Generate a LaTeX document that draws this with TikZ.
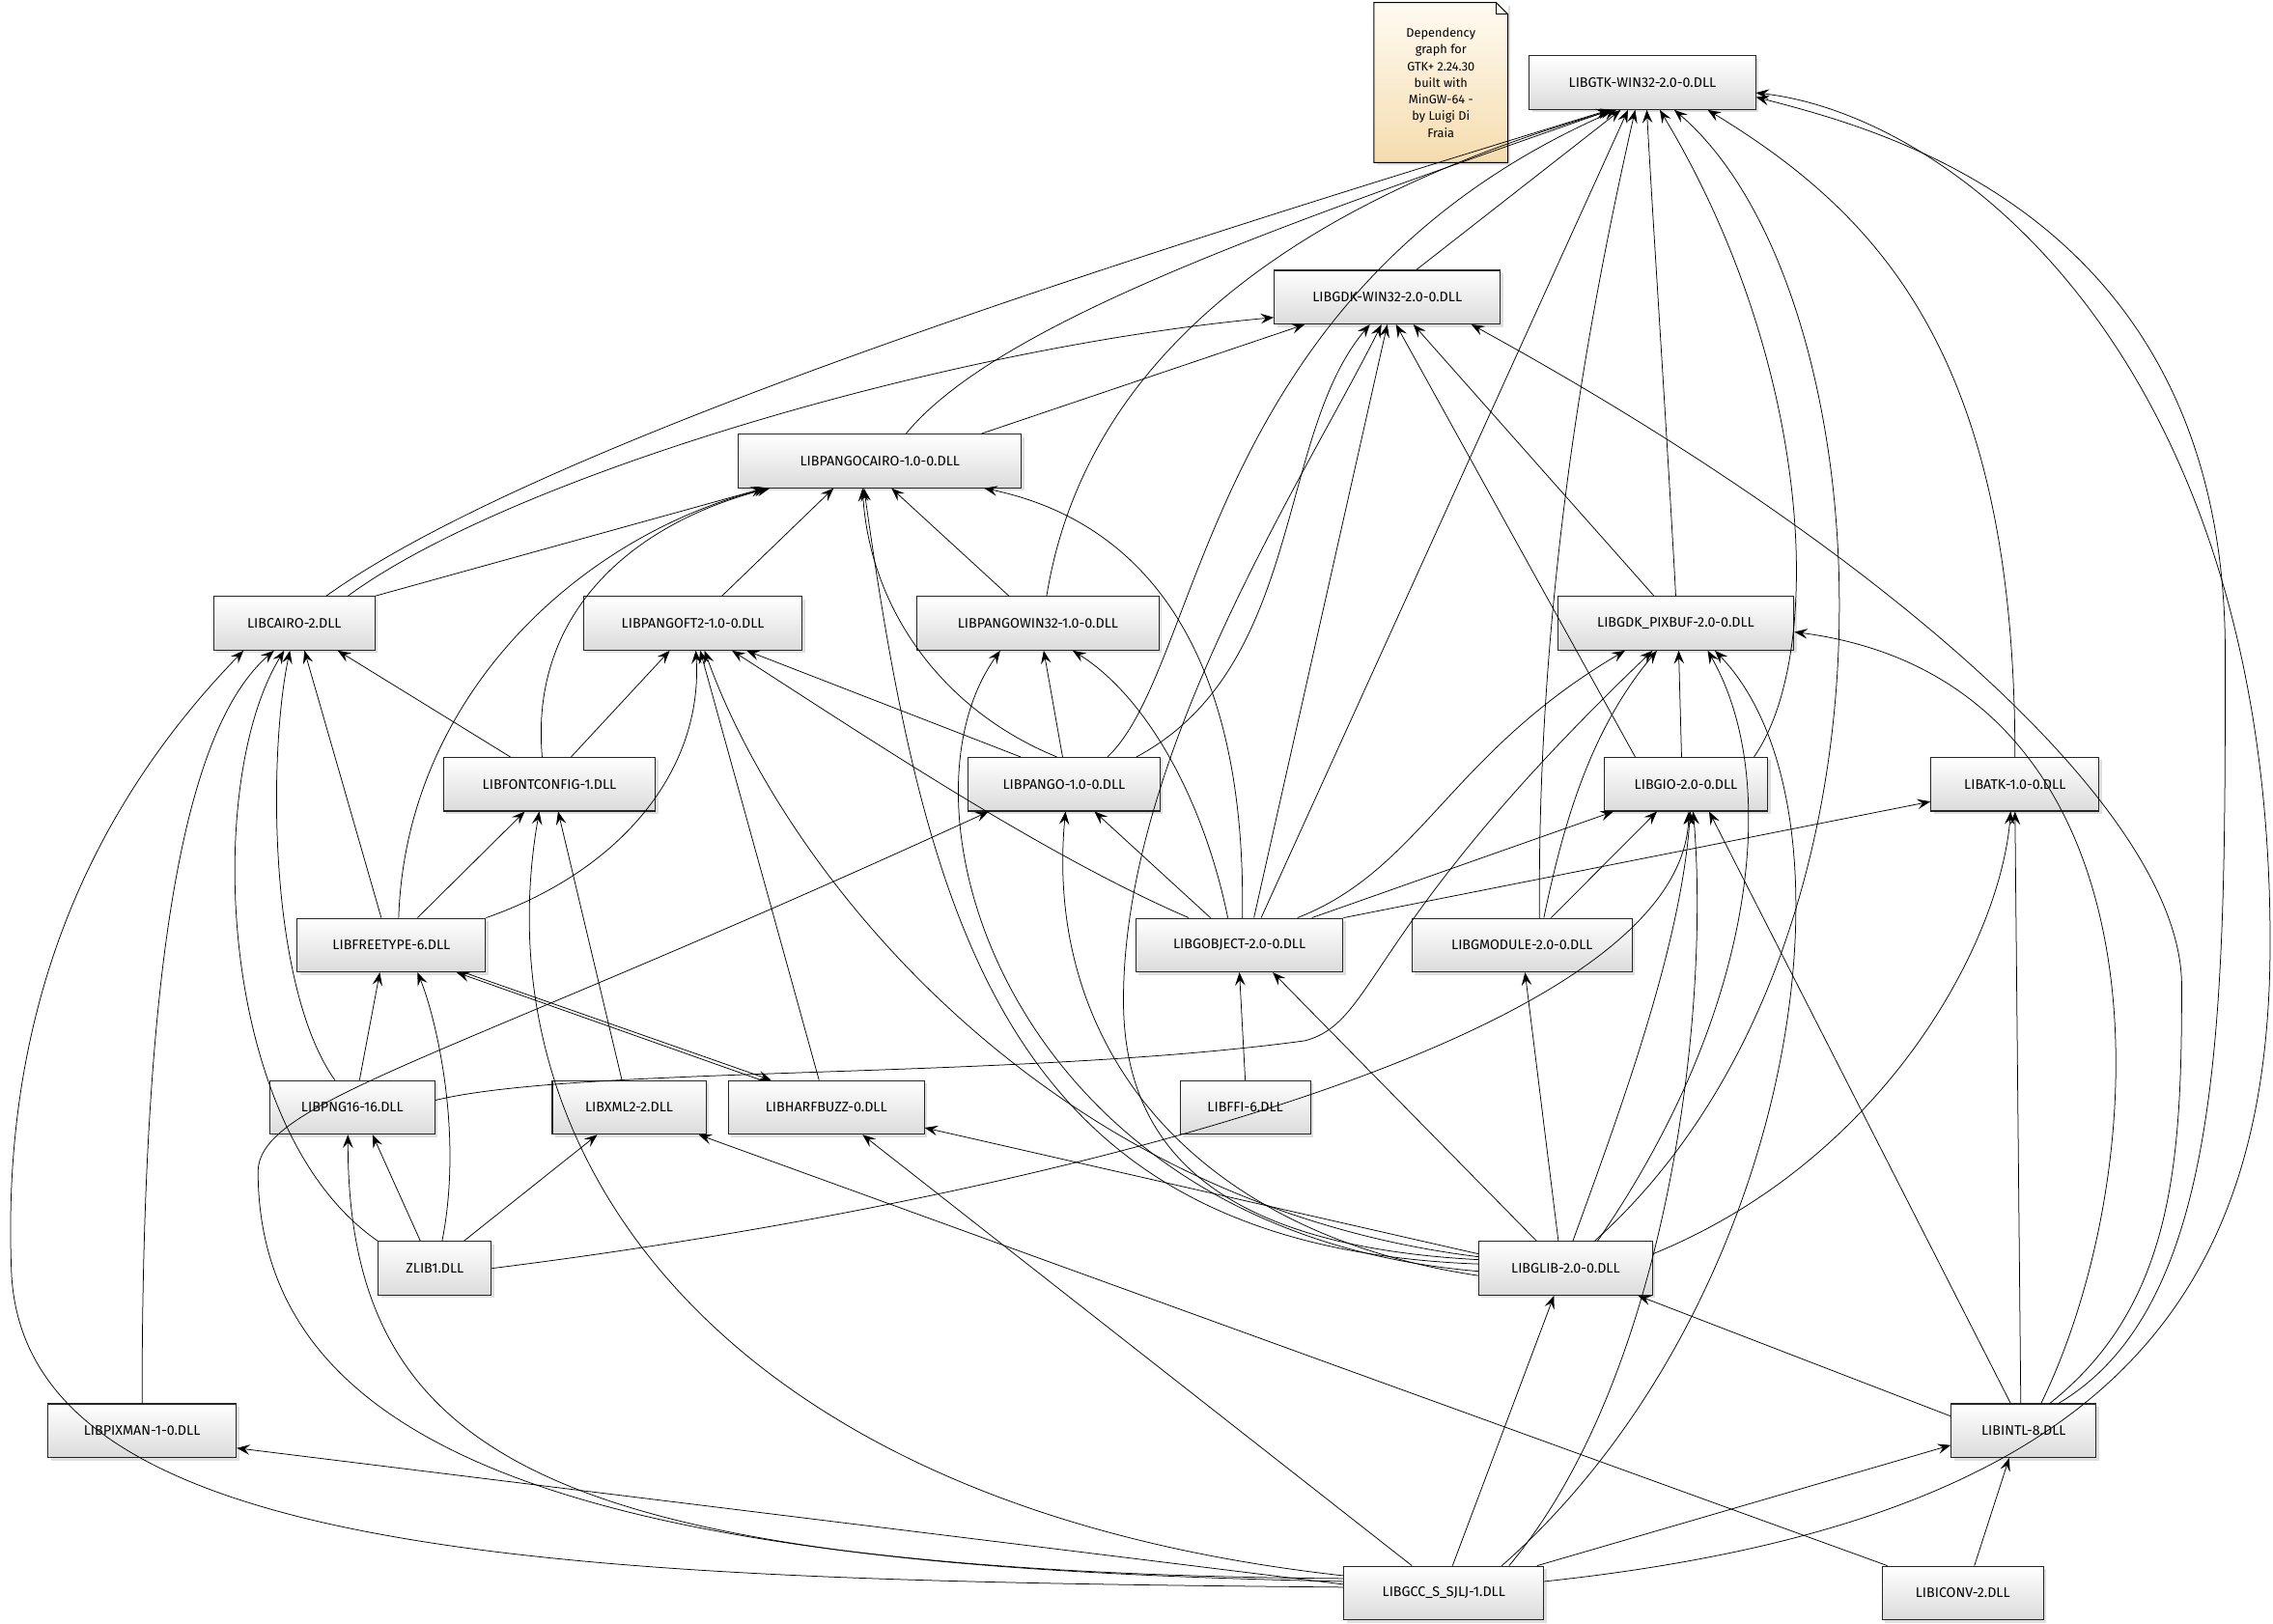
\documentclass[tikz,border=0pt]{standalone}
\usepackage{fontspec}
\newfontfamily\dllfont{Fira Sans}
\usetikzlibrary{arrows.meta}
\usetikzlibrary{shadows}
\definecolor{notelight}{HTML}{FFFBF2}
\definecolor{notedark}{HTML}{F5DCAE}
\tikzset{dll/.style = {draw=black!85, line width=0.7pt, top color=white, bottom color=black!14,
                       minimum height=37, inner sep=0pt,
                       font=\dllfont\fontsize{9.5}{11}\selectfont,
                       drop shadow={opacity=0.25, shadow xshift=2pt, shadow yshift=-2pt}},
         dep/.style = {-{Stealth[length=9pt, width=7pt, inset=3.5pt]}, line width=0.5pt},
         notebox/.style = {minimum width=92, minimum height=110, inner sep=0pt, align=center,
                           top color=notelight, bottom color=notedark,
                           font=\dllfont\fontsize{8.5}{11.5}\selectfont,
                           drop shadow={opacity=0.25, shadow xshift=2pt, shadow yshift=-2pt}}}

\begin{document}
\begin{tikzpicture}[x=1pt, y=-1pt]
      \useasboundingbox (0,0) rectangle (1568,1120);

      \node [notebox] (note) at (994,57) {Dependency\\graph for\\GTK+ 2.24.30\\built with\\MinGW-64 -\\by Luigi Di\\Fraia};
      \fill [white] ([xshift=-8]note.north east) -- (note.north east) -- ([yshift=-8]note.north east) -- cycle;
      \draw [line width=0.7pt] (note.north west) -- ([xshift=-8]note.north east) -- ([yshift=-8]note.north east)
            -- (note.south east) -- (note.south west) -- cycle;
      \draw [line width=0.5pt] ([xshift=-8]note.north east) -- ([xshift=-8,yshift=-8]note.north east) -- ([yshift=-8]note.north east);

      \node [dll, minimum width=156] (gtk) at (1133,57) {LIBGTK-WIN32-2.0-0.DLL};
      \node [dll, minimum width=156] (gdk) at (957,205) {LIBGDK-WIN32-2.0-0.DLL};
      \node [dll, minimum width=195] (pcairo) at (607,318) {LIBPANGOCAIRO-1.0-0.DLL};
      \node [dll, minimum width=111] (cairo) at (203,430) {LIBCAIRO-2.DLL};
      \node [dll, minimum width=151] (pft2) at (478,430) {LIBPANGOFT2-1.0-0.DLL};
      \node [dll, minimum width=167] (pwin32) at (716,430) {LIBPANGOWIN32-1.0-0.DLL};
      \node [dll, minimum width=163] (pixbuf) at (1156,430) {LIBGDK\_PIXBUF-2.0-0.DLL};
      \node [dll, minimum width=146] (fontconfig) at (379,541) {LIBFONTCONFIG-1.DLL};
      \node [dll, minimum width=132] (pango) at (734,541) {LIBPANGO-1.0-0.DLL};
      \node [dll, minimum width=113] (gio) at (1163,541) {LIBGIO-2.0-0.DLL};
      \node [dll, minimum width=116] (atk) at (1390,541) {LIBATK-1.0-0.DLL};
      \node [dll, minimum width=130] (freetype) at (270,652) {LIBFREETYPE-6.DLL};
      \node [dll, minimum width=143] (gobject) at (855,652) {LIBGOBJECT-2.0-0.DLL};
      \node [dll, minimum width=152] (gmodule) at (1050,652) {LIBGMODULE-2.0-0.DLL};
      \node [dll, minimum width=114] (png) at (243,764) {LIBPNG16-16.DLL};
      \node [dll, minimum width=106] (xml2) at (434,764) {LIBXML2-2.DLL};
      \node [dll, minimum width=135] (harfbuzz) at (570,764) {LIBHARFBUZZ-0.DLL};
      \node [dll, minimum width=90] (ffi) at (859,764) {LIBFFI-6.DLL};
      \node [dll, minimum width=78] (zlib) at (300,875) {ZLIB1.DLL};
      \node [dll, minimum width=120] (glib) at (1080,875) {LIBGLIB-2.0-0.DLL};
      \node [dll, minimum width=130] (pixman) at (98,987) {LIBPIXMAN-1-0.DLL};
      \node [dll, minimum width=100] (intl) at (1396,987) {LIBINTL-8.DLL};
      \node [dll, minimum width=138] (gcc) at (996,1099) {LIBGCC\_S\_SJLJ-1.DLL};
      \node [dll, minimum width=111] (iconv) at (1354,1099) {LIBICONV-2.DLL};

      % gtk
      \draw [dep] ([xshift=22]cairo.north) .. controls (380,300) and (820,165) .. ([xshift=-23]gtk.south);
      \draw [dep] ([xshift=18]pcairo.north) .. controls (690,220) and (900,150) .. ([xshift=-22]gtk.south);
      \draw [dep] ([xshift=6]pwin32.north) .. controls (740,300) and (820,160) .. ([xshift=-20]gtk.south);
      \draw [dep] ([xshift=30]pango.north) .. controls (830,460) and (830,200) .. ([xshift=-18]gtk.south);
      \draw [dep] ([xshift=20]gdk.north) -- ([xshift=-15]gtk.south);
      \draw [dep] ([xshift=15]gobject.north) -- ([xshift=-10]gtk.south);
      \draw [dep] ([xshift=12]gmodule.north) .. controls (1060,400) and (1100,200) .. ([xshift=-5]gtk.south);
      \draw [dep] (pixbuf.north) .. controls (1150,300) and (1140,150) .. ([xshift=3]gtk.south);
      \draw [dep] ([xshift=47]gio.north) .. controls (1260,450) and (1250,250) .. ([xshift=12]gtk.south);
      \draw [dep] ([xshift=20]glib.north) .. controls (1330,650) and (1300,200) .. ([xshift=22]gtk.south);
      \draw [dep] (atk.north) .. controls (1390,250) and (1300,150) .. ([xshift=45]gtk.south);
      \draw [dep] ([xshift=24]intl.north) .. controls (1535,900) and (1535,700) .. (1535,450)
                  .. controls (1535,150) and (1300,90) .. ([yshift=-10]gtk.east);
      \draw [dep] ([yshift=8]gcc.east) .. controls (1450,1050) and (1566,900) .. (1566,650)
                  .. controls (1566,250) and (1350,80) .. ([yshift=-7]gtk.east);

      % gdk
      \draw [dep] ([xshift=37]cairo.north) .. controls (350,330) and (650,240) .. ([yshift=-14]gdk.west);
      \draw [dep] ([xshift=70]pcairo.north) -- ([xshift=-57]gdk.south);
      \draw [dep] ([xshift=50]pango.north) .. controls (900,460) and (880,300) .. ([xshift=-12]gdk.south);
      \draw [dep] ([yshift=6]glib.west) .. controls (850,860) and (775,800) .. (775,690)
                  .. controls (775,520) and (900,330) .. ([xshift=-4]gdk.south);
      \draw [dep] ([xshift=10]gobject.north) -- (gdk.south);
      \draw [dep] ([xshift=-35]gio.north) -- ([xshift=6]gdk.south);
      \draw [dep] ([xshift=-15]pixbuf.north) -- ([xshift=18]gdk.south);
      \draw [dep] ([xshift=18]intl.north) .. controls (1500,900) and (1505,800) .. (1505,680)
                  .. controls (1505,560) and (1300,380) .. ([xshift=58]gdk.south);

      % pangocairo
      \draw [dep] (cairo.north east) -- ([xshift=-80]pcairo.south);
      \draw [dep] ([xshift=5]freetype.north) .. controls (280,480) and (400,370) .. ([xshift=-78]pcairo.south);
      \draw [dep] ([xshift=-5]fontconfig.north) .. controls (365,420) and (440,360) .. ([xshift=-76]pcairo.south);
      \draw [dep] ([xshift=20]pft2.north) -- ([xshift=-32]pcairo.south);
      \draw [dep] ([xshift=-5]pango.north) .. controls (650,490) and (600,420) .. ([xshift=-12]pcairo.south);
      \draw [dep] ([yshift=3]glib.west) .. controls (700,860) and (640,650) .. ([xshift=-11]pcairo.south);
      \draw [dep] ([xshift=-20]pwin32.north) -- ([xshift=8]pcairo.south);
      \draw [dep] ([xshift=2]gobject.north) .. controls (860,450) and (790,360) .. ([xshift=72]pcairo.south);

      % cairo
      \draw [dep] ([yshift=4]gcc.west) .. controls (400,1090) and (20,1080) .. (8,880)
                  .. controls (0,700) and (60,560) .. ([xshift=-35]cairo.south);
      \draw [dep] (pixman.north) .. controls (98,650) and (130,500) .. ([xshift=-14]cairo.south);
      \draw [dep] (zlib.north west) .. controls (150,780) and (140,540) .. ([xshift=-7]cairo.south);
      \draw [dep] ([xshift=-12]png.north) .. controls (185,680) and (185,520) .. ([xshift=-3]cairo.south);
      \draw [dep] ([xshift=-7]freetype.north) -- ([xshift=7]cairo.south);
      \draw [dep] ([xshift=-27]fontconfig.north) -- ([xshift=30]cairo.south);

      % pangoft2
      \draw [dep] ([xshift=15]fontconfig.north) -- ([xshift=-16]pft2.south);
      \draw [dep] (freetype.north east) .. controls (430,600) and (485,530) .. ([xshift=2]pft2.south);
      \draw [dep] ([xshift=-5]harfbuzz.north) -- ([xshift=5]pft2.south);
      \draw [dep] ([yshift=8]glib.west) .. controls (720,830) and (540,600) .. ([xshift=8]pft2.south);
      \draw [dep] ([xshift=-35]gobject.north) .. controls (720,590) and (600,510) .. ([xshift=27]pft2.south);
      \draw [dep] ([xshift=-30]pango.north) -- ([xshift=37]pft2.south);

      % pangowin32
      \draw [dep] ([yshift=-2]glib.west) .. controls (700,850) and (610,560) .. ([xshift=-26]pwin32.south);
      \draw [dep] ([xshift=-1]pango.north) -- ([xshift=4]pwin32.south);
      \draw [dep] ([xshift=-8]gobject.north) .. controls (830,550) and (790,480) .. ([xshift=24]pwin32.south);

      % pango
      \draw [dep] ([yshift=10]gcc.west) .. controls (400,1085) and (180,1000) .. (178,810)
                  .. controls (176,760) and (300,735) .. ([xshift=-52]pango.south);
      \draw [dep] ([yshift=-5]glib.west) .. controls (820,850) and (720,720) .. ([xshift=1]pango.south);
      \draw [dep] ([xshift=-20]gobject.north) -- ([xshift=21]pango.south);

      % gdk_pixbuf
      \draw [dep] ([xshift=40]gobject.north) .. controls (980,600) and (1000,520) .. ([xshift=-35]pixbuf.south);
      \draw [dep] ([yshift=5]png.east) .. controls (400,735) and (700,745) .. (900,718)
                  .. controls (950,705) and (940,640) .. ([xshift=-16]pixbuf.south);
      \draw [dep] ([xshift=15]gmodule.north) .. controls (1080,560) and (1100,500) .. ([xshift=-13]pixbuf.south);
      \draw [dep] ([xshift=-3]gio.north) -- ([xshift=2]pixbuf.south);
      \draw [dep] ([xshift=22]glib.north) .. controls (1210,700) and (1230,540) .. ([xshift=22]pixbuf.south);
      \draw [dep] ([xshift=40]gcc.north) .. controls (1240,900) and (1290,560) .. ([xshift=27]pixbuf.south);
      \draw [dep] ([xshift=12]intl.north) .. controls (1490,800) and (1500,470) .. ([yshift=-6]pixbuf.east);

      % gio
      \draw [dep] ([xshift=50]gobject.north) -- ([xshift=-50]gio.south);
      \draw [dep] ([xshift=20]gmodule.north) -- ([xshift=-20]gio.south);
      \draw [dep] (zlib.east) .. controls (700,830) and (1160,720) .. ([xshift=2]gio.south);
      \draw [dep] ([xshift=5]glib.north) .. controls (1120,760) and (1160,650) .. ([xshift=3]gio.south);
      \draw [dep] ([xshift=45]gcc.north) .. controls (1150,950) and (1180,700) .. ([xshift=5]gio.south);
      \draw [dep] ([xshift=-9]intl.north) -- ([xshift=16]gio.south);

      % atk
      \draw [dep] (gobject.north east) -- ([yshift=-12]atk.west);
      \draw [dep] ([yshift=10]glib.east) .. controls (1300,800) and (1380,650) .. ([xshift=-3]atk.south);
      \draw [dep] ([xshift=-2]intl.north) -- (atk.south);

      % the rest
      \draw [dep] (ffi.north) -- (gobject.south);
      \draw [dep] ([xshift=-20]glib.north) -- ([xshift=23]gobject.south);
      \draw [dep] ([xshift=-5]glib.north) -- ([xshift=2]gmodule.south);
      \draw [dep] ([xshift=5]png.north) -- ([xshift=-8]freetype.south);
      \draw [dep] ([xshift=5]zlib.north) .. controls (320,780) and (300,700) .. ([xshift=18]freetype.south);
      \draw [dep] ([xshift=-45]harfbuzz.north) -- ([xshift=45]freetype.south);
      \draw [dep] ([xshift=50]freetype.south) -- ([xshift=-38]harfbuzz.north);
      \draw [dep] ([xshift=18]freetype.north) -- ([xshift=-17]fontconfig.south);
      \draw [dep] ([yshift=12]gcc.west) .. controls (500,1040) and (330,800) .. ([xshift=-7]fontconfig.south);
      \draw [dep] ([xshift=-5]xml2.north) -- ([xshift=6]fontconfig.south);
      \draw [dep] ([yshift=8]gcc.west) .. controls (400,1080) and (240,1020) .. ([xshift=-3]png.south);
      \draw [dep] ([xshift=-10]zlib.north) -- ([xshift=14]png.south);
      \draw [dep] ([xshift=20]zlib.north) -- ([xshift=-22]xml2.south);
      \draw [dep] ([xshift=-52]iconv.north) -- ([xshift=48]xml2.south);
      \draw [dep] ([xshift=-22]gcc.north) -- ([xshift=25]harfbuzz.south);
      \draw [dep] ([yshift=10]glib.west) -- ([yshift=-14]harfbuzz.east);
      \draw [dep] ([xshift=6]gcc.north) -- ([xshift=-8]glib.south);
      \draw [dep] ([yshift=10]intl.west) -- ([xshift=50]glib.south);
      \draw [dep] ([yshift=6]gcc.west) -- ([yshift=-12]pixman.east);
      \draw [dep] ([xshift=-5]gcc.north east) -- ([yshift=-10]intl.west);
      \draw [dep] ([xshift=8]iconv.north) -- ([xshift=-10]intl.south);

    \end{tikzpicture}
\end{document}
